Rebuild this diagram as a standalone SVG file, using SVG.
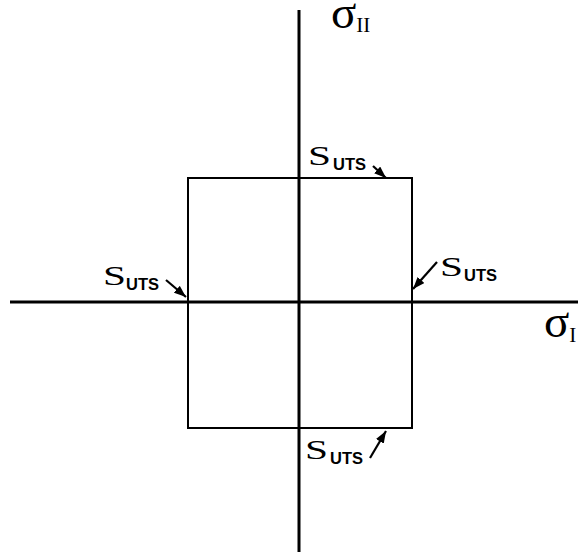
<svg xmlns="http://www.w3.org/2000/svg" width="578" height="552" viewBox="0 0 578 552">
<style>
.ax{stroke:#000;stroke-width:3;fill:none}
.box{stroke:#000;stroke-width:2;fill:none}
.ar{stroke:#000;stroke-width:2.2;fill:none;marker-end:url(#ah)}
.sig{font-family:"Liberation Serif",serif;font-size:47px;fill:#000}
.sub{font-family:"Liberation Serif",serif;font-size:21px;fill:#000}
.s{font-family:"Liberation Serif",serif;font-size:28px;fill:#000}
.u{font-family:"Liberation Sans",Arial,sans-serif;font-weight:bold;font-size:16.5px;fill:#000}
</style>
<defs>
<marker id="ah" viewBox="0 0 12 9" refX="12" refY="4.5" markerWidth="12" markerHeight="9" markerUnits="userSpaceOnUse" orient="auto">
<path d="M0,0 L12,4.5 L0,9 z" fill="#000"/>
</marker>
</defs>
<g id="axes">
<line class="ax" x1="299" y1="10" x2="299" y2="552"/>
<line class="ax" x1="10" y1="302" x2="578" y2="302"/>
</g>
<g id="envelope">
<rect class="box" x="188" y="178" width="224" height="250"/>
</g>
<g id="axis-labels">
<text x="331" y="28"><tspan class="sig">σ</tspan><tspan class="sub" dy="4">II</tspan></text>
<text x="544" y="337"><tspan class="sig">σ</tspan><tspan class="sub" dy="5">I</tspan></text>
</g>
<g id="labels">
<text class="s" x="308" y="165" textLength="23" lengthAdjust="spacingAndGlyphs">S</text>
<text class="u" x="333" y="170">UTS</text>
<text class="s" x="103" y="285" textLength="23" lengthAdjust="spacingAndGlyphs">S</text>
<text class="u" x="126" y="290">UTS</text>
<text class="s" x="440" y="276" textLength="23" lengthAdjust="spacingAndGlyphs">S</text>
<text class="u" x="464" y="281">UTS</text>
<text class="s" x="305" y="459" textLength="23" lengthAdjust="spacingAndGlyphs">S</text>
<text class="u" x="330" y="464">UTS</text>
</g>
<g id="connectors">
<line class="ar" x1="373" y1="166" x2="386" y2="178"/>
<line class="ar" x1="166" y1="280" x2="186" y2="297"/>
<line class="ar" x1="437" y1="262" x2="413" y2="289"/>
<line class="ar" x1="370" y1="458" x2="386" y2="431"/>
</g>
</svg>
